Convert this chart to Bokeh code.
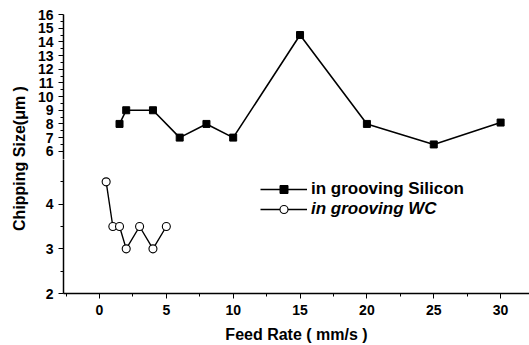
import math
from bokeh.plotting import figure
from bokeh.layouts import row, column
from bokeh.models import (Range1d, FixedTicker, Legend, LegendItem, Label)
from bokeh.embed import file_html
from bokeh.resources import INLINE

# ---- data ----
si_feed = [1.5, 2, 4, 6, 8, 10, 15, 20, 25, 30]
si_chip = [8, 9, 9, 7, 8, 7, 14.5, 8, 6.5, 8.1]
wc_feed = [0.5, 1, 1.5, 2, 3, 4, 5]
wc_chip = [4.5, 3.5, 3.5, 3, 3.5, 3, 3.5]

x_ticks = [0, 5, 10, 15, 20, 25, 30]
x_minor = [-2.5, 2.5, 7.5, 12.5, 17.5, 22.5, 27.5]
upper_ticks = [6, 7, 8, 9, 10, 11, 12, 13, 14, 15, 16]
upper_minor = [6.5, 7.5, 8.5, 9.5, 10.5, 11.5, 12.5, 13.5, 14.5, 15.5]
lower_ticks = [2, 3, 4]
lower_minor = [2.5, 3.5, 4.5]

FONT = "Liberation Sans"
TICK_FS = "14px"
LAB_FS = "16px"
LEG_FS = "17px"

x_range = Range1d(-2.69, 32.16)

def style_yaxis(p, ticks, minor):
    ax = p.yaxis[0]
    ax.ticker = FixedTicker(ticks=ticks, minor_ticks=minor)
    ax.major_label_text_font = FONT
    ax.major_label_text_font_style = "bold"
    ax.major_label_text_font_size = TICK_FS
    ax.major_label_text_color = "black"
    ax.axis_line_width = 1.5
    ax.axis_line_color = "black"
    ax.major_tick_line_width = 1.2
    ax.major_tick_out = 5
    ax.major_tick_in = 0
    ax.minor_tick_out = 3
    ax.minor_tick_in = 0
    ax.major_label_standoff = 5

# ---- upper part: 6..16 ----
top = figure(width=499, height=159, x_range=x_range, y_range=Range1d(5.4, 16),
             output_backend="svg", toolbar_location=None, x_axis_location=None,
             min_border_left=33, min_border_right=0, min_border_top=14,
             min_border_bottom=0)
top.outline_line_color = None
top.grid.visible = False
style_yaxis(top, upper_ticks, upper_minor)
top.line(si_feed, si_chip, line_color="black", line_width=1.6)
top.scatter(si_feed, si_chip, marker="square", size=7, fill_color="black",
            line_color="black")

# ---- lower part: 2..~5 ----
bot = figure(width=499, height=186, x_range=x_range, y_range=Range1d(2, 5.0),
             output_backend="svg", toolbar_location=None,
             min_border_left=33, min_border_right=0, min_border_top=0,
             min_border_bottom=0)
bot.outline_line_color = None
bot.grid.visible = False
style_yaxis(bot, lower_ticks, lower_minor)

xa = bot.xaxis[0]
xa.ticker = FixedTicker(ticks=x_ticks, minor_ticks=x_minor)
xa.major_label_text_font = FONT
xa.major_label_text_font_style = "bold"
xa.major_label_text_font_size = TICK_FS
xa.major_label_text_color = "black"
xa.axis_line_width = 1.5
xa.axis_line_color = "black"
xa.major_tick_out = 5
xa.major_tick_in = 0
xa.minor_tick_out = 3
xa.minor_tick_in = 0
xa.major_label_standoff = 6
xa.axis_label = "Feed Rate ( mm/s )"
xa.axis_label_text_font = FONT
xa.axis_label_text_font_style = "bold"
xa.axis_label_text_font_size = LAB_FS
xa.axis_label_text_color = "black"
xa.axis_label_standoff = 8

# silicon series repeated here only for its legend entry (outside range -> clipped)
si_line = bot.line(si_feed, si_chip, line_color="black", line_width=1.6)
si_pts = bot.scatter(si_feed, si_chip, marker="square", size=7,
                     fill_color="black", line_color="black")
wc_line = bot.line(wc_feed, wc_chip, line_color="black", line_width=1.4)
wc_pts = bot.scatter(wc_feed, wc_chip, marker="circle", size=8,
                     fill_color="white", line_color="black", line_width=1.1)

def make_legend(label, renderers, loc, style):
    return Legend(items=[LegendItem(label=label, renderers=renderers)],
                  location=loc, padding=0, margin=0, border_line_color=None,
                  background_fill_alpha=0, glyph_width=47, glyph_height=20,
                  label_height=20, label_standoff=4, label_text_font=FONT,
                  label_text_font_style=style, label_text_font_size=LEG_FS,
                  label_text_color="black", spacing=0)

bot.add_layout(make_legend("in grooving Silicon", [si_line, si_pts], (197, 94), "bold"))
bot.add_layout(make_legend("in grooving WC", [wc_line, wc_pts], (197, 74), "bold italic"))

# ---- y-axis title spanning both parts ----
lab = figure(width=30, height=345, x_range=Range1d(0, 30), y_range=Range1d(0, 345),
             output_backend="svg", toolbar_location=None, x_axis_location=None,
             y_axis_location=None, min_border=0)
lab.outline_line_color = None
lab.grid.visible = False
lab.add_layout(Label(x=19, y=345 - 158, text="Chipping Size(μm )", angle=math.pi / 2,
                     text_align="center", text_baseline="middle", text_font=FONT,
                     text_font_style="bold", text_font_size=LAB_FS, text_color="black"))

layout = row(lab, column(top, bot))
open("out.html", "w").write(file_html(layout, INLINE))
